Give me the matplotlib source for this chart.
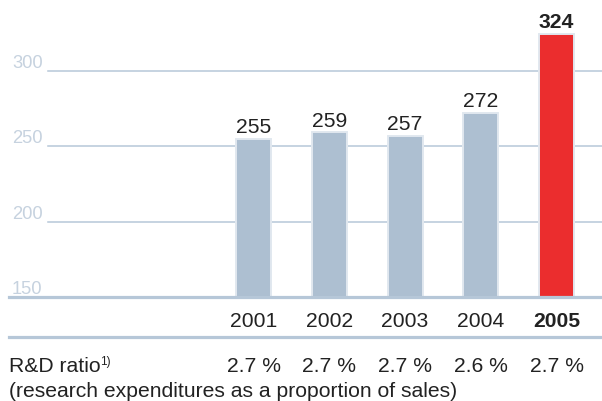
import matplotlib.pyplot as plt
from matplotlib.lines import Line2D
from matplotlib.transforms import blended_transform_factory

years = ['2001', '2002', '2003', '2004', '2005']
values = [255, 259, 257, 272, 324]
ratios = ['2.7 %', '2.7 %', '2.7 %', '2.6 %', '2.7 %']
yticks = [150, 200, 250, 300]

bar_col = '#adbfd1'
red = '#eb2d2e'
grid_col = '#b6c7d8'
tick_col = '#c6d2df'
txt = '#222222'

plt.rcParams['font.family'] = ['Liberation Sans', 'DejaVu Sans']

W, H = 602, 401
fig = plt.figure(figsize=(W / 100, H / 100), dpi=100)
# axes placed in pixel terms: left 9px, bottom at y=297 from top
ax = fig.add_axes([9 / W, (H - 297) / H, (W - 9) / W, 297 / H])

px_per_unit = 226.4 / 150
ax.set_ylim(150, 150 + 297 / px_per_unit)
step = 75.75
ax.set_xlim((9 - 253.5) / step, (602 - 253.5) / step)
ax.axis('off')

# gridlines
for v in yticks[1:]:
    ax.axhline(v, xmin=(48 - 9) / (W - 9), xmax=1, color=grid_col, lw=1.1, zorder=1)
ax.axhline(150, color=grid_col, lw=2.3, zorder=4, clip_on=False)

x = list(range(len(years)))
colors = [bar_col] * 4 + [red]
ax.bar(x, [v - 150 for v in values], bottom=150, width=35 / step, color=colors,
       edgecolor='#e1e8ef', linewidth=1.4, zorder=3)

for i, v in enumerate(values):
    ax.annotate(str(v), (i, v), xytext=(0, 4.3), textcoords='offset points',
                ha='center', va='baseline', fontsize=15.2, color=txt,
                fontweight='bold' if i == 4 else 'normal')

tr_y = blended_transform_factory(ax.transAxes, ax.transData)
for v in yticks:
    ax.annotate(str(v), (3 / (W - 9), v), xycoords=tr_y, xytext=(0, 2),
                textcoords='offset points', ha='left', va='baseline',
                fontsize=13.2, color=tick_col)

tr = blended_transform_factory(ax.transData, fig.transFigure)
for i, (yr, r) in enumerate(zip(years, ratios)):
    fig.text(i, 1 - 326.7 / H, yr, transform=tr, ha='center', va='baseline',
             fontsize=15.2, color=txt, fontweight='bold' if i == 4 else 'normal')
    fig.text(i, 1 - 371.7 / H, r, transform=tr, ha='center', va='baseline',
             fontsize=15.2, color=txt)

fig.add_artist(Line2D([9 / W, 1], [1 - 337 / H, 1 - 337 / H], color=grid_col, lw=2.3))

lab = fig.text(9 / W, 1 - 371.7 / H, 'R&D ratio', ha='left', va='baseline',
               fontsize=15.2, color=txt)
ax.annotate('1)', xy=(1, 0.55), xycoords=lab, xytext=(-0.5, 0), textcoords='offset points',
            ha='left', va='baseline', fontsize=8.5, color=txt)
fig.text(9 / W, 1 - 397 / H, '(research expenditures as a proportion of sales)',
         ha='left', va='baseline', fontsize=15.2, color=txt)

fig.savefig('out.png', dpi=100)
